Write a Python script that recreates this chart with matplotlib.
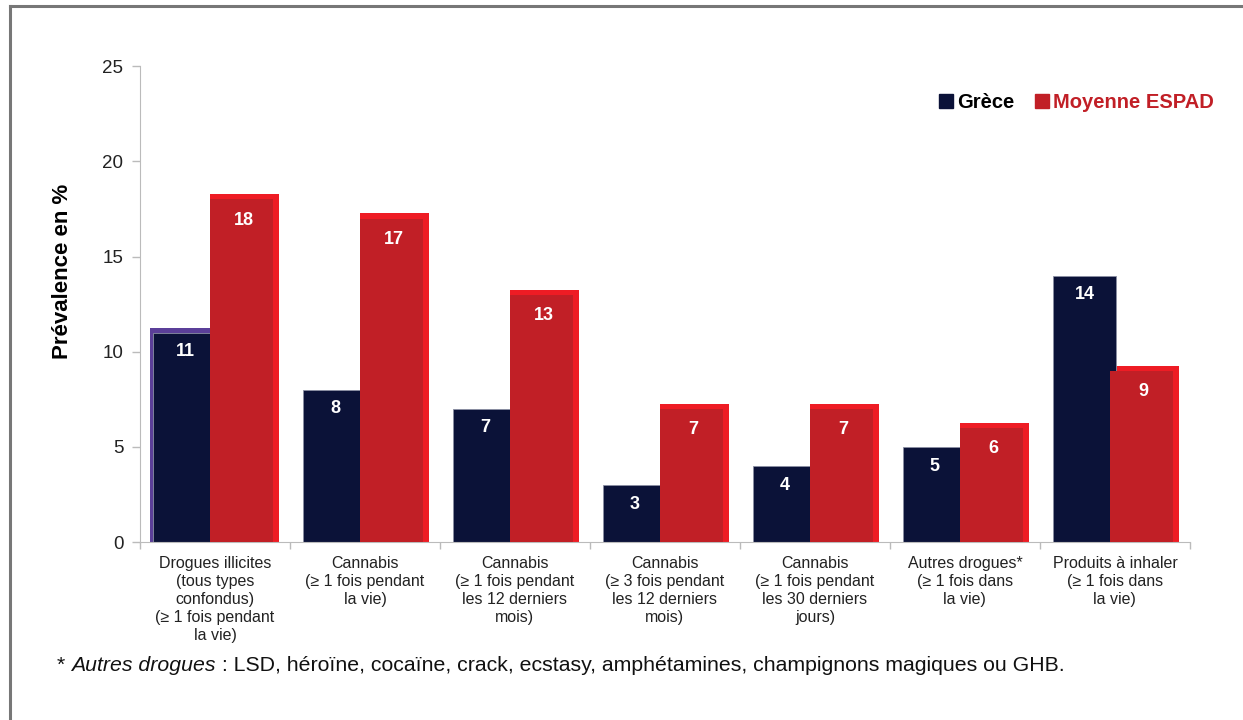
import numpy as np
import matplotlib.pyplot as plt
from matplotlib.lines import Line2D
from matplotlib.patches import Patch

plt.rcParams['font.family'] = ['Liberation Sans', 'DejaVu Sans']

categories = ['Drogues illicites\n(tous types\nconfondus)\n(≥ 1 fois pendant\nla vie)',
              'Cannabis\n(≥ 1 fois pendant\nla vie)',
              'Cannabis\n(≥ 1 fois pendant\nles 12 derniers\nmois)',
              'Cannabis\n(≥ 3 fois pendant\nles 12 derniers\nmois)',
              'Cannabis\n(≥ 1 fois pendant\nles 30 derniers\njours)',
              'Autres drogues*\n(≥ 1 fois dans\nla vie)',
              'Produits à inhaler\n(≥ 1 fois dans\nla vie)']
grece = [11, 8, 7, 3, 4, 5, 14]
espad = [18, 17, 13, 7, 7, 6, 9]

navy = '#0b1238'
red = '#c11f26'
bright = '#ee1c24'

fig = plt.figure(figsize=(12.43, 7.2), dpi=100)
ax = fig.add_axes([0.1126, 0.247, 0.8447, 0.661])

x = np.arange(len(categories))

# contours décalés (effet ombre du graphique d'origine)
ax.bar(x + 0.2, np.array(espad) + 0.27, width=0.46, color=bright, zorder=1)
ax.bar(x[0] - 0.225, grece[0] + 0.25, width=0.42, color='#5b3f99', zorder=1)
ax.bar(x - 0.2, grece, width=0.42, color=navy, edgecolor='#8a8fa3', linewidth=0.6, zorder=2)
ax.bar(x + 0.18, espad, width=0.42, color=red, zorder=3)

for i in range(len(x)):
    ax.text(x[i] - 0.2, grece[i] - 1.0, str(grece[i]), ha='center', va='center',
            color='white', fontsize=13, fontweight='bold', zorder=4)
    ax.text(x[i] + 0.19, espad[i] - 1.1, str(espad[i]), ha='center', va='center',
            color='white', fontsize=13, fontweight='bold', zorder=4)

ax.set_xlim(-0.5, len(x) - 0.5)
ax.set_ylim(0, 25)
ax.set_yticks([0, 5, 10, 15, 20, 25])
ax.tick_params(axis='y', labelsize=13.5, colors='#bbbbbb', labelcolor='#222222',
               length=6, width=1, pad=6)

ax.set_xticks(x)
ax.set_xticklabels(categories, fontsize=11.5, linespacing=1.25, color='#222222')
ax.set_xticks(np.arange(len(x) + 1) - 0.5, minor=True)
ax.tick_params(axis='x', which='major', length=0, pad=10)
ax.tick_params(axis='x', which='minor', length=5, color='#bbbbbb', width=1)

for s in ['top', 'right']:
    ax.spines[s].set_visible(False)
ax.spines['left'].set_color('#bbbbbb')
ax.spines['bottom'].set_color('#bbbbbb')

ax.set_ylabel('Prévalence en %', fontsize=16, fontweight='bold')
ax.yaxis.set_label_coords(-0.064, 0.57)

handles = [Patch(color=navy), Patch(color=red)]
leg = fig.legend(handles, ['Grèce', 'Moyenne ESPAD'], loc='center right',
                 bbox_to_anchor=(0.991, 0.857), ncol=2, frameon=False,
                 handlelength=0.7, handleheight=0.7, handletextpad=0.2,
                 columnspacing=1.0, prop={'weight': 'bold', 'size': 14.5},
                 labelcolor=['black', red])

fs = 15.3
t1 = fig.text(0.046, 0.068, '* ', fontsize=fs, color='#111111', va='baseline')
t2 = ax.annotate('Autres drogues', xy=(1, 0), xycoords=t1, fontsize=fs,
                 style='italic', color='#111111', va='bottom', annotation_clip=False)
ax.annotate(' : LSD, héroïne, cocaïne, crack, ecstasy, amphétamines, champignons magiques ou GHB.',
            xy=(1, 0), xycoords=t2, fontsize=fs, color='#111111', va='bottom',
            annotation_clip=False)

# cadre gris
fig.add_artist(Line2D([0.008, 0.008], [0, 0.992], color='#777777', lw=2.2))
fig.add_artist(Line2D([0.008, 1.0], [0.992, 0.992], color='#777777', lw=2.2))

fig.savefig('out.png', dpi=100)
